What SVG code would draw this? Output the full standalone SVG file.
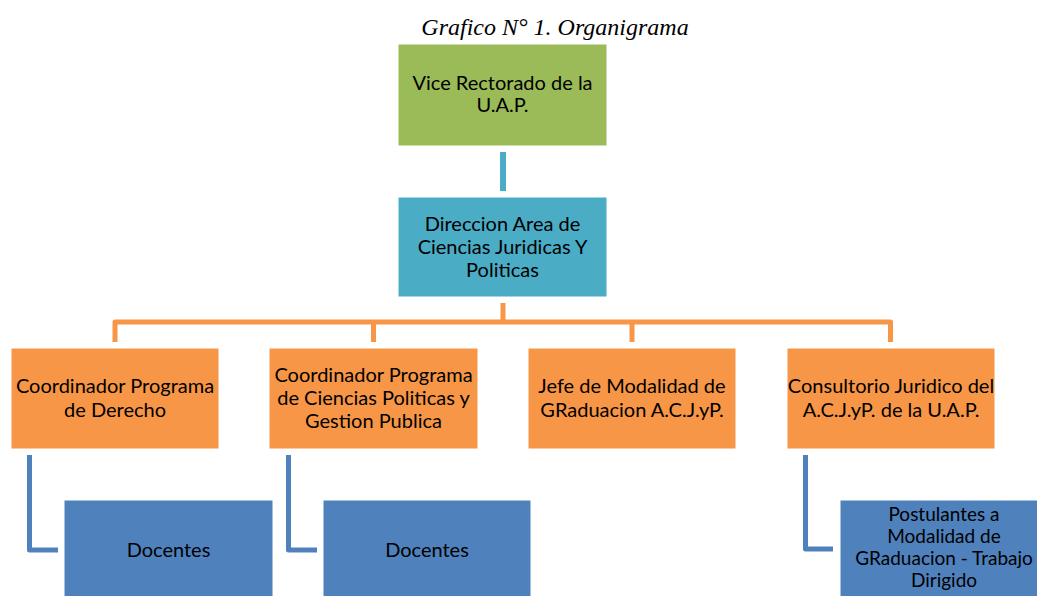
<svg xmlns="http://www.w3.org/2000/svg" width="1037" height="596" viewBox="0 0 1037 596">
<style>
.t{font-family:Lato,"Liberation Sans",sans-serif;font-size:20px;fill:#000;text-anchor:middle}
.s{font-size:19px}
.title{font-family:"Liberation Serif",serif;font-style:italic;font-size:24px;fill:#000;text-anchor:middle}
.box{stroke:#fff;stroke-width:1}
.c{fill:none;stroke-linejoin:round;stroke-linecap:butt}
</style>
<rect width="1037" height="596" fill="#fff"/>
<text class="title" x="555" y="35">Grafico N° 1. Organigrama</text>
<g id="connectors">
<path class="c" d="M503 152V191" stroke="#4BACC6" stroke-width="6"/>
<path class="c" d="M503 303V322M115 342V322H890.5V342M373.5 322V342M632 322V342" stroke="#F79646" stroke-width="5"/>
<path class="c" d="M29.5 455V550H58M288.5 455V550H317M805.5 455V549H833" stroke="#4F81BD" stroke-width="5"/>
</g>
<g id="n1"><rect class="box" x="398" y="44" width="209" height="102" fill="#9BBB59"/>
<text class="t" x="502.5" y="90">Vice Rectorado de la</text><text class="t" x="502.5" y="112">U.A.P.</text></g>
<g id="n2"><rect class="box" x="398" y="197" width="209" height="100" fill="#4BACC6"/>
<text class="t" x="502.5" y="231">Direccion Area de</text><text class="t" x="502.5" y="254">Ciencias Juridicas Y</text><text class="t" x="502.5" y="277">Politicas</text></g>
<g id="n3"><rect class="box" x="11" y="348" width="208" height="101" fill="#F79646"/>
<text class="t" x="115" y="393">Coordinador Programa</text><text class="t" x="115" y="417">de Derecho</text></g>
<g id="n4"><rect class="box" x="269" y="348" width="209" height="101" fill="#F79646"/>
<text class="t" x="373.5" y="382">Coordinador Programa</text><text class="t" x="373.5" y="405">de Ciencias Politicas y</text><text class="t" x="373.5" y="428">Gestion Publica</text></g>
<g id="n5"><rect class="box" x="528" y="348" width="208" height="101" fill="#F79646"/>
<text class="t" x="632" y="393">Jefe de Modalidad de</text><text class="t" x="632" y="417">GRaduacion A.C.J.yP.</text></g>
<g id="n6"><rect class="box" x="787" y="348" width="208" height="101" fill="#F79646"/>
<text class="t" x="891" y="393">Consultorio Juridico del</text><text class="t" x="891" y="417">A.C.J.yP. de la U.A.P.</text></g>
<g id="n7"><rect class="box" x="64" y="500" width="209" height="100" fill="#4F81BD"/>
<text class="t" x="168.5" y="557">Docentes</text></g>
<g id="n8"><rect class="box" x="323" y="500" width="208" height="100" fill="#4F81BD"/>
<text class="t" x="427" y="557">Docentes</text></g>
<g id="n9"><rect class="box" x="840" y="500" width="208" height="100" fill="#4F81BD"/>
<text class="t s" x="944" y="521">Postulantes a</text><text class="t s" x="944" y="543">Modalidad de</text><text class="t s" x="944" y="565">GRaduacion - Trabajo</text><text class="t s" x="944" y="587">Dirigido</text></g>
</svg>
